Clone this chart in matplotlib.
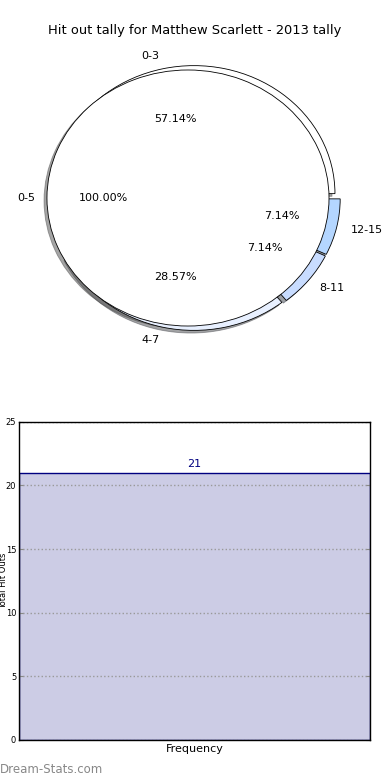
import matplotlib.pyplot as plt

# --- data ---
title = 'Hit out tally for Matthew Scarlett - 2013 tally'
outer_labels = ['0-3', '4-7', '8-11', '12-15']
outer_counts = [12, 6, 1.5, 1.5]          # 57.14%, 28.57%, 7.14%, 7.14%
outer_colors = ['#ffffff', '#e8f0ff', '#c8dcff', '#b4d6ff']
outer_explode = [0.035, 0.035, 0.03, 0.03]
inner_labels = ['0-5']
inner_counts = [21]
inner_explode = [0.05]
bar_labels = ['Frequency']
bar_values = [21]

fig = plt.figure(figsize=(3.9, 7.8), dpi=100)

# --- pie (top) ---
shadow_opts = {'ox': -0.015, 'oy': -0.015}
ax1 = fig.add_axes([0.0481, 0.541, 0.904, 0.4103])
ax1.pie(outer_counts, labels=outer_labels, colors=outer_colors, explode=outer_explode,
        radius=1.0, autopct='%.2f%%', shadow=shadow_opts, startangle=0, labeldistance=1.1,
        wedgeprops={'edgecolor': 'black', 'linewidth': 0.6},
        textprops={'fontsize': 8})
ax1.pie(inner_counts, labels=inner_labels, colors=['white'], radius=1.0,
        explode=inner_explode, autopct='%.2f%%', shadow=shadow_opts, startangle=0,
        labeldistance=1.085,
        wedgeprops={'edgecolor': 'black', 'linewidth': 0.6},
        textprops={'fontsize': 8})
ax1.set_aspect('auto')
ax1.set_xlim(-1.25, 1.25)
ax1.set_ylim(-1.25, 1.25)
fig.text(0.5, 0.961, title, ha='center', va='center', fontsize=9.4)

# --- bar (bottom) ---
ax2 = fig.add_axes([0.0487, 0.0513, 0.9, 0.408])
ax2.bar(range(len(bar_values)), bar_values, width=1.0, color='#ccccE5',
        edgecolor='#000080', linewidth=1)
for i, v in enumerate(bar_values):
    ax2.text(i, v + 0.25, str(v), ha='center', va='bottom', fontsize=8, color='#000080')
ax2.set_xlim(-0.5, 0.5)
ax2.set_ylim(0, 25)
ax2.set_yticks([0, 5, 10, 15, 20, 25])
ax2.set_xticks(range(len(bar_labels)))
ax2.set_xticklabels(bar_labels, fontsize=8)
ax2.tick_params(axis='x', length=0, pad=3)
ax2.tick_params(axis='y', labelsize=6, direction='in', length=3, color='#888888',
                right=True, pad=2)
ax2.yaxis.grid(True, linestyle=':', color='#999999', linewidth=1)
ax2.set_axisbelow('line')
ax2.set_ylabel('Total Hit Outs', fontsize=6)
ax2.yaxis.set_label_coords(-0.031, 0.5)
for s in ax2.spines.values():
    s.set_linewidth(1)
    s.set_zorder(3)

fig.text(0.0, 0.013, 'Dream-Stats.com', ha='left', va='center', fontsize=8.5,
         color='#888888')

fig.savefig('out.png', dpi=100)
